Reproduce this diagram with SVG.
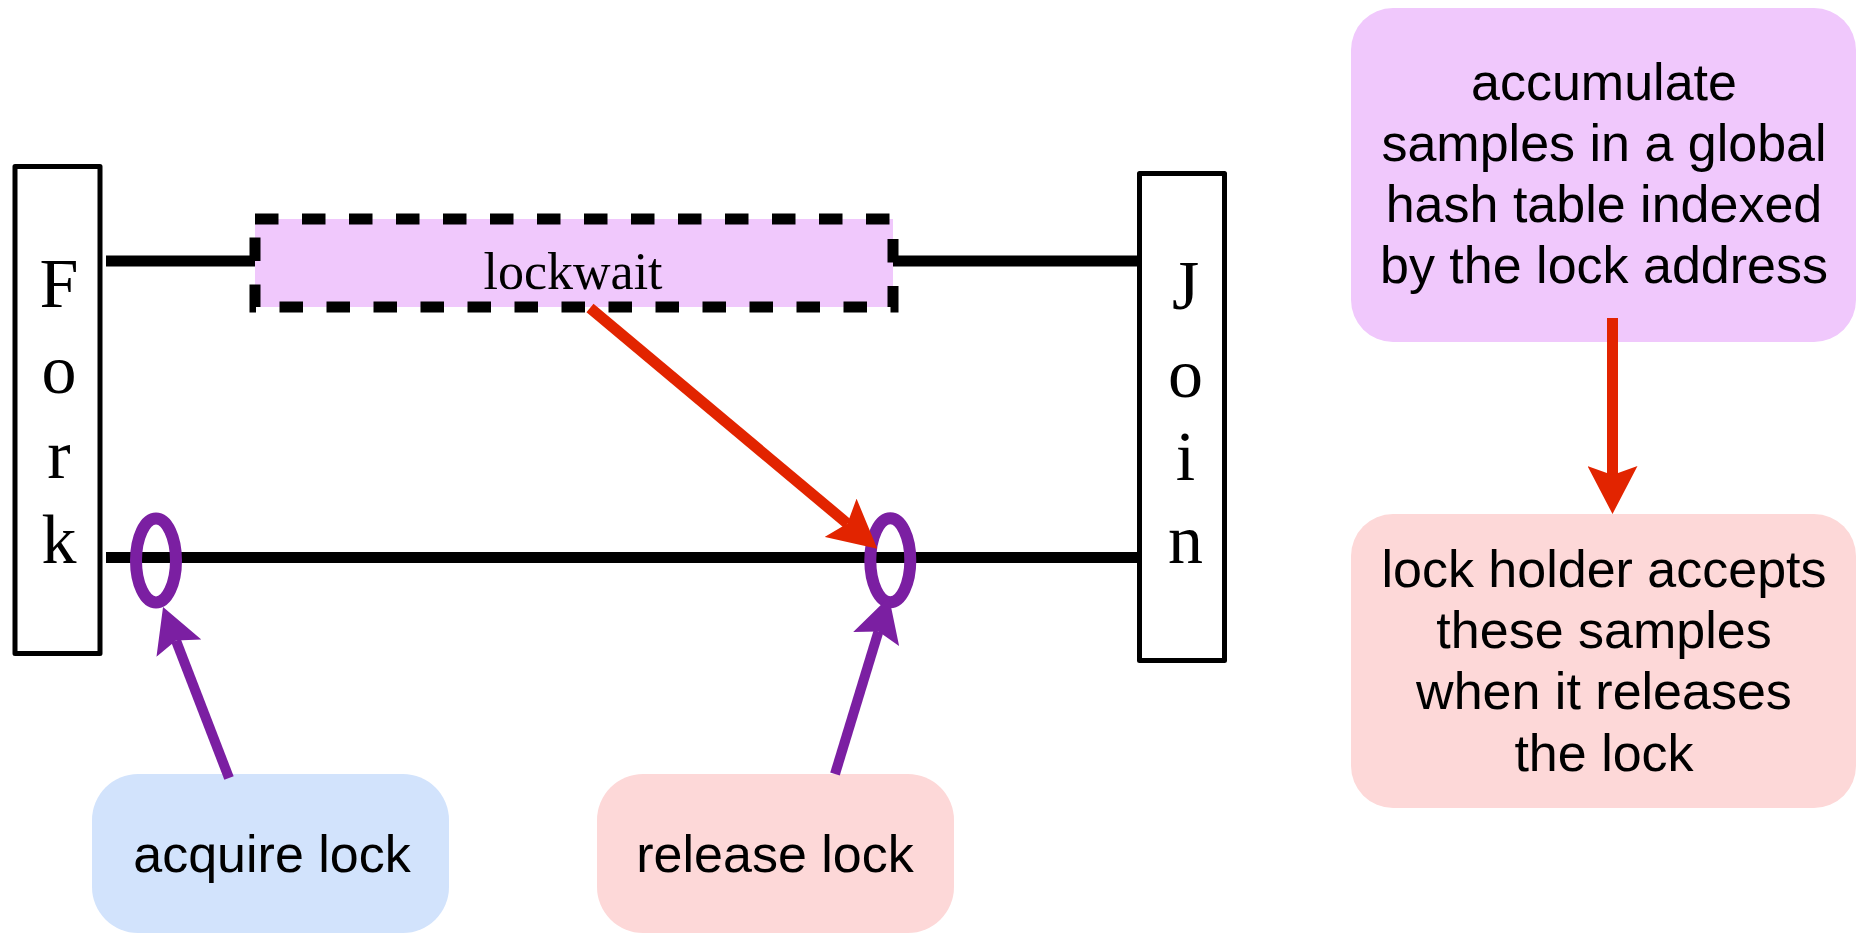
<svg xmlns="http://www.w3.org/2000/svg" width="1860" height="934" viewBox="0 0 1860 934">
  <style>
    .bar { fill: #ffffff; stroke: #000000; stroke-width: 5; stroke-linejoin: round; }
    .bar-text { font-family: "Liberation Serif", "Times New Roman", serif; font-size: 70px; fill: #000000; text-anchor: middle; }
    .thread { stroke: #000000; stroke-width: 11; fill: none; }
    .lock-ring { fill: none; stroke: #7b1fa2; stroke-width: 12; }
    .note { font-family: "Liberation Sans", Arial, sans-serif; font-size: 52px; fill: #000000; text-anchor: middle; }
    .red { stroke: #e22400; stroke-width: 11; fill: none; }
    .purple { stroke: #7b1fa2; stroke-width: 10; fill: none; }
  </style>
  <defs>
    <marker id="head-red" markerUnits="userSpaceOnUse" viewBox="0 0 48 50" refX="9" refY="25" markerWidth="48" markerHeight="50" orient="auto">
      <path d="M48,25 L0,0 L9,25 L0,50 Z" fill="#e22400"/>
    </marker>
    <marker id="head-purple" markerUnits="userSpaceOnUse" viewBox="0 0 44 48" refX="8" refY="24" markerWidth="44" markerHeight="48" orient="auto">
      <path d="M44,24 L0,0 L8,24 L0,48 Z" fill="#7b1fa2"/>
    </marker>
    <clipPath id="lockwait-clip">
      <rect x="255" y="219" width="638" height="70.5"/>
    </clipPath>
  </defs>

  <rect width="1860" height="934" fill="#ffffff"/>

  <!-- thread timelines -->
  <g id="threads">
    <line class="thread" x1="106" y1="261" x2="256" y2="261"/>
    <line class="thread" x1="892" y1="261" x2="1137" y2="261"/>
    <line class="thread" x1="106" y1="557.5" x2="1137" y2="557.5"/>
  </g>

  <!-- Fork bar -->
  <g id="fork">
    <rect class="bar" x="15" y="166.5" width="85" height="487"/>
    <text class="bar-text" x="59" y="307">F</text>
    <text class="bar-text" x="59" y="393">o</text>
    <text class="bar-text" x="59" y="478">r</text>
    <text class="bar-text" x="59" y="563">k</text>
  </g>

  <!-- Join bar -->
  <g id="join">
    <rect class="bar" x="1139.5" y="173.5" width="85" height="487"/>
    <text class="bar-text" x="1185.5" y="309">J</text>
    <text class="bar-text" x="1185.5" y="397">o</text>
    <text class="bar-text" x="1185.5" y="480">i</text>
    <text class="bar-text" x="1185.5" y="563">n</text>
  </g>

  <!-- lockwait interval -->
  <g id="lockwait">
    <rect x="255" y="219" width="638" height="88" fill="#f0c8fc" stroke="#000000" stroke-width="11" stroke-dasharray="23.5 23.5"/>
    <text x="573" y="289" clip-path="url(#lockwait-clip)" font-family="'Liberation Serif', 'Times New Roman', serif" font-size="52" text-anchor="middle" fill="#000000">lockwait</text>
  </g>

  <!-- lock points on the lower thread -->
  <g id="acquire-point">
    <ellipse class="lock-ring" cx="156" cy="560.5" rx="20" ry="42"/>
  </g>
  <g id="release-point">
    <ellipse class="lock-ring" cx="890.3" cy="560.3" rx="20" ry="42"/>
  </g>

  <!-- labels -->
  <g id="acquire-lock">
    <rect x="92" y="774" width="357" height="159" rx="46" ry="46" fill="#d2e3fc"/>
    <text class="note" x="272" y="872">acquire lock</text>
  </g>
  <g id="release-lock">
    <rect x="597" y="774" width="357" height="159" rx="46" ry="46" fill="#fdd8d8"/>
    <text class="note" x="775" y="872">release lock</text>
  </g>
  <g id="accumulate">
    <rect x="1351" y="8" width="505" height="334" rx="42" ry="42" fill="#f0c8fc"/>
    <text class="note" x="1604" y="100">accumulate</text>
    <text class="note" x="1604" y="161">samples in a global</text>
    <text class="note" x="1604" y="222">hash table indexed</text>
    <text class="note" x="1604" y="283">by the lock address</text>
  </g>
  <g id="holder-accepts">
    <rect x="1351" y="514" width="505" height="294" rx="42" ry="42" fill="#fdd8d8"/>
    <text class="note" x="1604" y="587">lock holder accepts</text>
    <text class="note" x="1604" y="648">these samples</text>
    <text class="note" x="1604" y="709">when it releases</text>
    <text class="note" x="1604" y="771">the lock</text>
  </g>

  <!-- connectors -->
  <g id="connectors">
    <line class="red" x1="590" y1="308" x2="847.4" y2="523.6" marker-end="url(#head-red)"/>
    <line class="red" x1="1612.5" y1="318" x2="1612.5" y2="475" marker-end="url(#head-red)"/>
    <line class="purple" x1="229" y1="778" x2="176" y2="640.6" marker-end="url(#head-purple)"/>
    <line class="purple" x1="835" y1="774" x2="878.5" y2="631.4" marker-end="url(#head-purple)"/>
  </g>
</svg>
